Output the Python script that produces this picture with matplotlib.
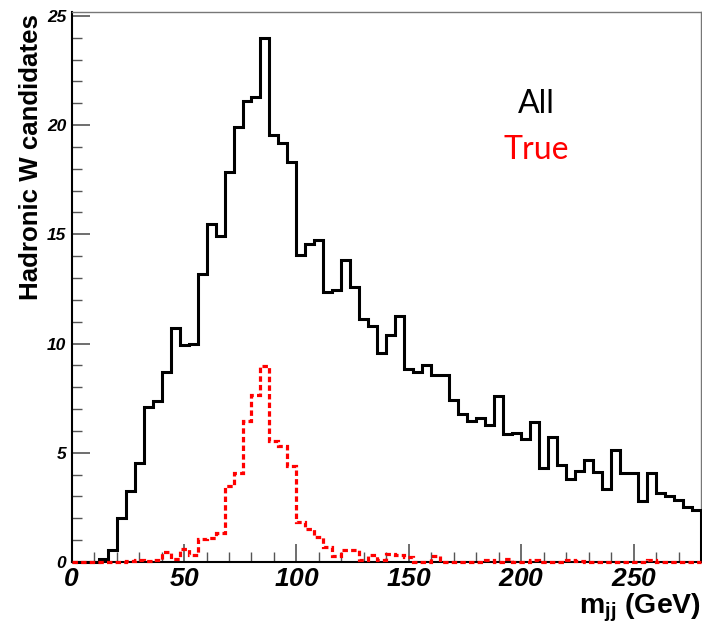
import numpy as np
import matplotlib
matplotlib.use("Agg")
import matplotlib.pyplot as plt
from matplotlib.ticker import MultipleLocator
from matplotlib.font_manager import FontProperties

# Dijet invariant mass, 4 GeV bins from 0 to 280 GeV
bin_edges = np.linspace(0, 280, 71)

all_candidates = [
    0, 0, 0, 0.12, 0.55, 2.0, 3.23, 4.54, 7.08, 7.37,
    8.68, 10.7, 9.92, 9.97, 13.2, 15.45, 14.92, 17.85, 19.9, 21.1,
    21.3, 24.0, 19.54, 19.17, 18.3, 14.07, 14.57, 14.73, 12.37, 12.45,
    13.82, 12.6, 11.13, 10.8, 9.56, 10.37, 11.28, 8.85, 8.72, 9.0,
    8.58, 8.58, 7.4, 6.79, 6.44, 6.59, 6.26, 7.58, 5.84, 5.9,
    5.62, 6.41, 4.31, 5.72, 4.46, 3.82, 4.17, 4.66, 4.12, 3.33,
    5.11, 4.08, 4.08, 2.8, 4.09, 3.17, 3.01, 2.83, 2.53, 2.37,
]

true_candidates = [
    0, 0, 0, 0, 0, 0, 0.04, 0.08, 0.06, 0.1,
    0.47, 0.12, 0.6, 0.3, 1.03, 1.08, 1.31, 3.47, 4.08, 6.45,
    7.63, 8.96, 5.54, 5.33, 4.38, 1.83, 1.49, 1.14, 0.68, 0.28,
    0.53, 0.53, 0.11, 0.31, 0.08, 0.38, 0.3, 0.24, 0, 0,
    0.27, 0, 0, 0, 0, 0, 0.08, 0, 0.12, 0,
    0, 0.07, 0, 0, 0, 0.07, 0.06, 0, 0, 0,
    0, 0, 0, 0, 0.07, 0, 0, 0, 0, 0,
]

x_ticks = [0, 50, 100, 150, 200, 250]
y_ticks = [0, 5, 10, 15, 20, 25]

plt.rcParams["mathtext.fontset"] = "custom"
plt.rcParams["mathtext.bf"] = "Liberation Sans:bold"
plt.rcParams["mathtext.bfit"] = "Liberation Sans:italic:bold"
plt.rcParams["mathtext.rm"] = "Liberation Sans"

W, H = 702, 623
fig = plt.figure(figsize=(W / 100, H / 100), dpi=100)
ax = fig.add_axes([71.7 / W, 1 - 562 / H, (701 - 71.7) / W, (562 - 11.5) / H])

ax.stairs(all_candidates, bin_edges, color="black", lw=2.2,
          clip_on=False, zorder=3)
ax.stairs(true_candidates, bin_edges, color="#ff0000", lw=2.3,
          linestyle=(0, (1.7, 1.0)), clip_on=False, zorder=4)

ax.set_xlim(0, 280)
ax.set_ylim(0, 25.2)

ax.set_xticks(x_ticks)
ax.set_yticks(y_ticks)
ax.xaxis.set_minor_locator(MultipleLocator(10))
ax.yaxis.set_minor_locator(MultipleLocator(1))
ax.tick_params(which="major", direction="in", length=13, width=1.2,
               color="#555555", top=False, right=False)
ax.tick_params(which="minor", direction="in", length=7, width=1.0,
               color="#555555", top=False, right=False)
ax.tick_params(axis="x", pad=3)
ax.tick_params(axis="y", pad=4)

yfont = FontProperties(family="Liberation Sans", weight="bold",
                       style="italic", size=12.5)
ax.set_xticklabels([rf"$\mathbfit{{{v}}}$" for v in x_ticks], fontsize=19)
ax.set_yticklabels([str(v) for v in y_ticks], fontproperties=yfont)

for side in ("left", "bottom"):
    ax.spines[side].set_color("black")
    ax.spines[side].set_linewidth(1.5)
for side in ("top", "right"):
    ax.spines[side].set_color("#777777")
    ax.spines[side].set_linewidth(1.0)

fig.text(31 / W, 1 - 14 / H, "Hadronic W candidates", rotation=90,
         ha="center", va="top", fontsize=18.6, fontweight="bold",
         family="Liberation Sans")
fig.text(701 / W, 1 - 613 / H, r"$\mathbf{m}_{\mathbf{jj}}$ (GeV)",
         ha="right", va="baseline", fontsize=20.5, fontweight="bold",
         family="Liberation Sans")

fig.text(536 / W, 1 - 104 / H, "All", ha="center", va="center",
         fontsize=23, color="black", family="Lato")
fig.text(536 / W, 1 - 150 / H, "True", ha="center", va="center",
         fontsize=23, color="#ff0000", family="Lato")

fig.savefig("out.png", dpi=100)
